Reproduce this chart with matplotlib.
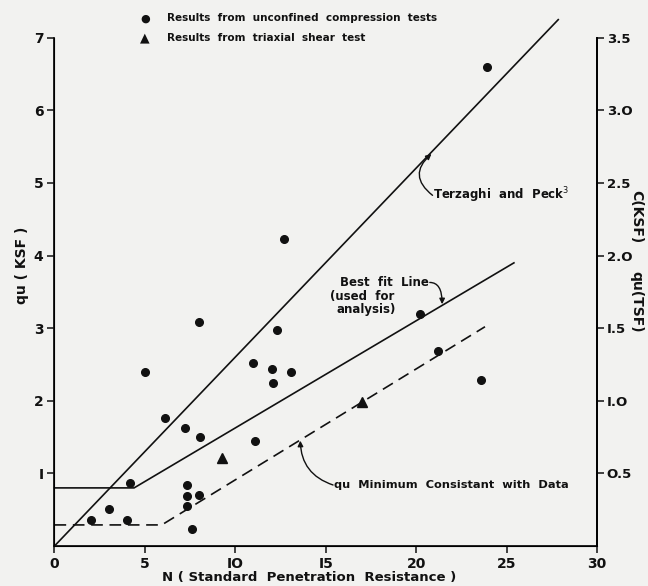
#!/usr/bin/env python3
import matplotlib
matplotlib.use("Agg")
import matplotlib.pyplot as plt

# unconfined compression test results (N, qu in KSF)
n_unconf = [2.0, 3.0, 4.0, 4.2, 5.0, 6.1, 7.2, 7.3, 7.3, 7.3, 7.6, 8.0, 8.0, 8.05,
            11.0, 11.1, 12.0, 12.1, 12.3, 12.7, 13.1, 20.2, 21.2, 23.6, 23.9]
qu_unconf = [0.36, 0.51, 0.36, 0.87, 2.40, 1.76, 1.62, 0.84, 0.69, 0.55, 0.23, 3.08, 0.70, 1.50,
             2.52, 1.44, 2.44, 2.24, 2.98, 4.23, 2.39, 3.20, 2.69, 2.29, 6.60]

# triaxial shear test results
n_triax = [9.25, 17.0]
qu_triax = [1.21, 1.99]

# reference lines
terz_n = [0, 27.85]
terz_qu = [0, 7.25]
best_n = [0, 4.4, 25.4]
best_qu = [0.8, 0.8, 3.9]
min_n = [0, 5.93, 23.8]
min_qu = [0.29, 0.29, 3.02]

x_ticks = [0, 5, 10, 15, 20, 25, 30]
x_labels = ["0", "5", "IO", "I5", "20", "25", "30"]
left_ticks = [1, 2, 3, 4, 5, 6, 7]
left_labels = ["I", "2", "3", "4", "5", "6", "7"]
right_ticks = [0.5, 1.0, 1.5, 2.0, 2.5, 3.0, 3.5]
right_labels = ["O.5", "I.O", "I.5", "2.O", "2.5", "3.O", "3.5"]

BG = "#f2f2f0"
INK = "#111111"
FONT = "DejaVu Sans"


def main():
    plt.rcParams["font.family"] = FONT
    fig = plt.figure(figsize=(6.48, 5.86), dpi=100, facecolor=BG)
    ax = fig.add_axes([0.0841, 0.0683, 0.8374, 0.8672])
    ax.set_facecolor(BG)

    ax.plot(terz_n, terz_qu, color=INK, lw=1.2, clip_on=False)
    ax.plot(best_n, best_qu, color=INK, lw=1.2, clip_on=False)
    ax.plot(min_n, min_qu, color=INK, lw=1.2, dashes=(7, 4), clip_on=False)
    ax.plot(n_unconf, qu_unconf, "o", color=INK, ms=5.5, clip_on=False)
    ax.plot(n_triax, qu_triax, "^", color=INK, ms=7, clip_on=False)

    ax.set_xlim(0, 30)
    ax.set_ylim(0, 7)
    ax.spines["top"].set_visible(False)
    for s in ("left", "bottom", "right"):
        ax.spines[s].set_linewidth(1.3)
        ax.spines[s].set_color(INK)
    ax.set_xticks(x_ticks)
    ax.set_xticklabels(x_labels)
    ax.set_yticks(left_ticks)
    ax.set_yticklabels(left_labels)
    ax.tick_params(axis="both", direction="out", length=5, width=1.1,
                   colors=INK, labelsize=10, pad=3)
    for lab in ax.get_xticklabels() + ax.get_yticklabels():
        lab.set_fontweight("bold")

    ax2 = ax.twinx()
    ax2.set_ylim(0, 3.5)
    ax2.spines["top"].set_visible(False)
    ax2.spines["right"].set_linewidth(1.3)
    ax2.set_yticks(right_ticks)
    ax2.set_yticklabels(right_labels)
    ax2.tick_params(axis="y", direction="out", length=5, width=1.1,
                    colors=INK, labelsize=9.5, pad=2)
    for lab in ax2.get_yticklabels():
        lab.set_fontweight("bold")

    # axis titles
    ax.text(-0.06, 0.553, "qu ( KSF )", transform=ax.transAxes, rotation=90,
            ha="center", va="center", fontsize=10, fontweight="bold", color=INK)
    ax.text(0.47, -0.063, "N ( Standard  Penetration  Resistance )", transform=ax.transAxes,
            ha="center", va="center", fontsize=9.5, fontweight="bold", color=INK)
    ax.text(1.073, 0.648, "C(KSF)", transform=ax.transAxes, rotation=270,
            ha="center", va="center", fontsize=10, fontweight="bold", color=INK)
    ax.text(1.073, 0.48, "qu(TSF)", transform=ax.transAxes, rotation=270,
            ha="center", va="center", fontsize=10, fontweight="bold", color=INK)

    # legend drawn above the plot
    lx = 0.224
    fig.text(lx, 0.969, "\u25CF", ha="center", va="center", fontsize=8, color=INK)
    fig.text(lx, 0.935, "\u25B2", ha="center", va="center", fontsize=9, color=INK)
    fig.text(lx + 0.0335, 0.969, "Results  from  unconfined  compression  tests",
             ha="left", va="center", fontsize=7.5, fontweight="bold", color=INK)
    fig.text(lx + 0.0335, 0.935, "Results  from  triaxial  shear  test",
             ha="left", va="center", fontsize=7.5, fontweight="bold", color=INK)

    # annotations
    arrow = dict(arrowstyle="-|>", color=INK, lw=1.0, mutation_scale=8,
                 shrinkA=0, shrinkB=0)
    ax.annotate("", xy=(20.84, 5.4), xytext=(20.9, 4.83),
                arrowprops=dict(arrow, connectionstyle="arc3,rad=-0.6"))
    ax.text(20.95, 4.83, "Terzaghi  and  Peck$^{3}$", ha="left", va="center",
            fontsize=8.5, fontweight="bold", color=INK)

    ax.text(18.24, 3.63, "Best  fit  Line", ha="center", va="center",
            fontsize=8.5, fontweight="bold", color=INK)
    ax.text(17.02, 3.44, "(used  for", ha="center", va="center",
            fontsize=8.5, fontweight="bold", color=INK)
    ax.text(17.24, 3.26, "analysis)", ha="center", va="center",
            fontsize=8.5, fontweight="bold", color=INK)
    ax.annotate("", xy=(21.43, 3.33), xytext=(20.75, 3.63),
                arrowprops=dict(arrow, connectionstyle="angle3,angleA=0,angleB=90"))

    ax.annotate("", xy=(13.59, 1.45), xytext=(15.4, 0.84),
                arrowprops=dict(arrow, connectionstyle="arc3,rad=-0.35"))
    ax.text(15.45, 0.84, "qu  Minimum  Consistant  with  Data", ha="left", va="center",
            fontsize=8.2, fontweight="bold", color=INK)

    fig.savefig("out.png", dpi=100, facecolor=BG)


if __name__ == "__main__":
    main()
